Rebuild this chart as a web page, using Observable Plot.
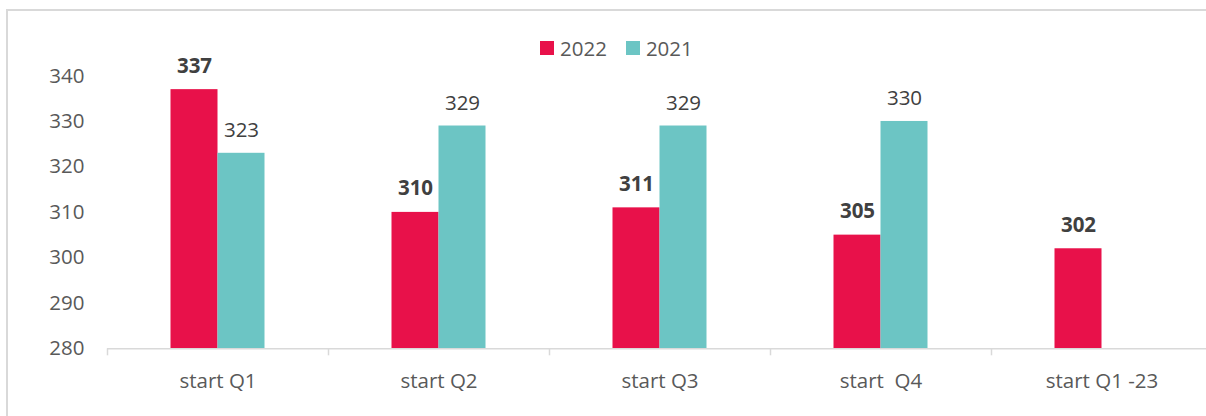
<!DOCTYPE html>
<html>
<head>
<meta charset="utf-8">
<script src="https://cdn.jsdelivr.net/npm/d3@7"></script>
<script src="https://cdn.jsdelivr.net/npm/@observablehq/plot@0.6"></script>
<style>
  html, body { margin: 0; padding: 0; background: #fff; overflow: hidden; }
  #wrap { position: relative; width: 1206px; height: 416px; overflow: hidden; font-family: "Open Sans", sans-serif; }
  #frame { position: absolute; left: 6px; top: 9px; width: 1300px; height: 500px; border: 2px solid #d9d9d9; box-sizing: border-box; }
  #chart { position: absolute; left: 0; top: 0; }
  #chart svg text { white-space: pre; }
  #legend { position: absolute; top: 34px; left: 540px; display: flex; align-items: center; font-size: 20.5px; color: #595959; }
  .sw { width: 14px; height: 14px; display: inline-block; margin-right: 6px; }
  .item { display: flex; align-items: center; margin-right: 19px; }
</style>
</head>
<body>
<div id="wrap">
  <div id="frame"></div>
  <div id="chart"></div>
  <div id="legend"></div>
</div>
<script>
const categories = ["start Q1", "start Q2", "start Q3", "start  Q4", "start Q1 -23"];
const values2022 = [337, 310, 311, 305, 302];
const values2021 = [323, 329, 329, 330, null];
const yTicks = [280, 290, 300, 310, 320, 330, 340];
const seriesNames = ["2022", "2021"];
const seriesColors = ["#e8114a", "#6cc5c4"];

const d2022 = categories.map((c, i) => ({cat: c, v: values2022[i]}));
const d2021 = categories.map((c, i) => ({cat: c, v: values2021[i]})).filter(d => d.v != null);

const W = 1206, H = 416;
const left = 107, right = 1212;
const band = (right - left) / categories.length;
const barW = 47;
const inA = band / 2 - barW, inB = band / 2;

const plot = Plot.plot({
  width: W,
  height: H,
  marginLeft: left,
  marginRight: 0,
  marginTop: 75.5,
  marginBottom: 67.7,
  style: {fontFamily: "Open Sans, sans-serif", fontSize: "20.5px", color: "#595959", background: "transparent", overflow: "visible"},
  x: {domain: categories, range: [left, right], padding: 0, label: null},
  y: {domain: [280, 340], label: null},
  marks: [
    Plot.barY(d2022, {x: "cat", y1: 280, y2: "v", fill: seriesColors[0], insetLeft: inA, insetRight: inB}),
    Plot.barY(d2021, {x: "cat", y1: 280, y2: "v", fill: seriesColors[1], insetLeft: inB, insetRight: inA}),
    Plot.ruleY([280], {stroke: "#d9d9d9", strokeWidth: 1.5}),
    Plot.ruleX(categories, {x: d => d, dx: -band / 2, y1: 280, y2: 280, insetBottom: -7, stroke: "#d9d9d9", strokeWidth: 1.5}),
    Plot.text(d2022, {x: "cat", y: "v", text: d => String(d.v), dx: -barW / 2, dy: -17, lineAnchor: "bottom", fontWeight: "bold", fill: "#404040", fontSize: 20.5}),
    Plot.text(d2021, {x: "cat", y: "v", text: d => String(d.v), dx: barW / 2, dy: -16, lineAnchor: "bottom", fill: "#404040", fontSize: 20.5}),
    Plot.axisY({ticks: yTicks, tickSize: 0, tickPadding: 23, tickFormat: d => String(d), fill: "#595959"}),
    Plot.axisX({tickSize: 0, tickPadding: 25, fill: "#595959"})
  ]
});
document.getElementById("chart").appendChild(plot);

const legend = document.getElementById("legend");
seriesNames.forEach((n, i) => {
  const it = document.createElement("span");
  it.className = "item";
  const sw = document.createElement("span");
  sw.className = "sw";
  sw.style.background = seriesColors[i];
  it.appendChild(sw);
  it.appendChild(document.createTextNode(n));
  legend.appendChild(it);
});
</script>
</body>
</html>
